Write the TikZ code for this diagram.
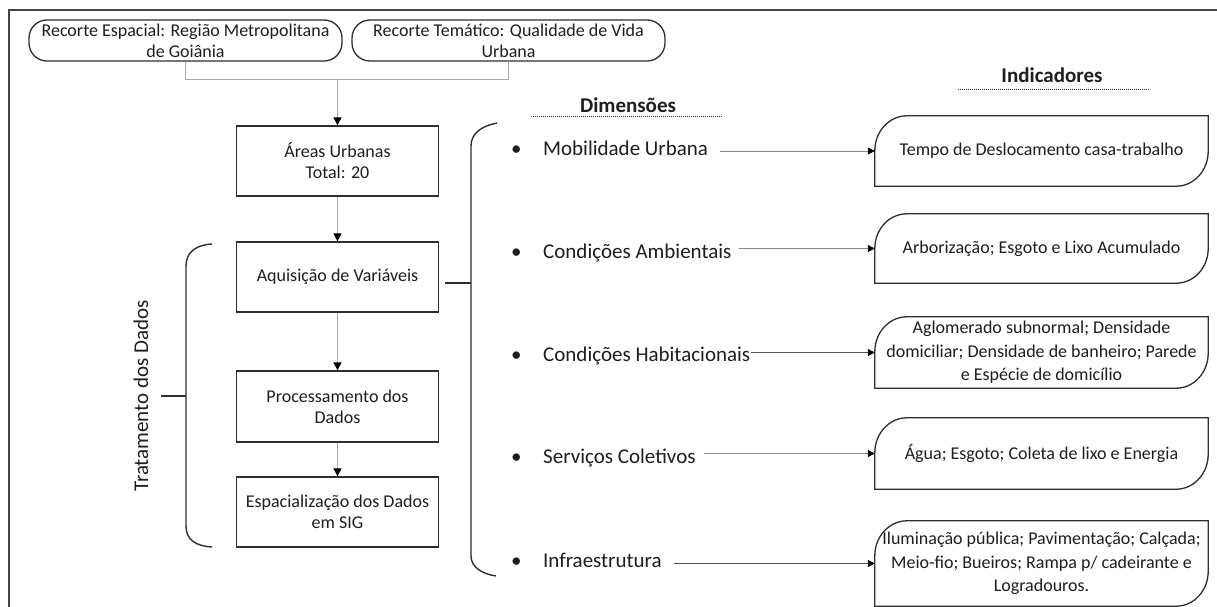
\documentclass[tikz,border=0pt]{standalone}
\usepackage{fontspec}
\setmainfont{Carlito}
\usetikzlibrary{arrows.meta,calc}
\definecolor{txt}{HTML}{1E1E1E}
\definecolor{bord}{HTML}{2E2E2E}
\definecolor{connc}{HTML}{A8A8A8}
\definecolor{dimlight}{HTML}{8A8A8A}
\definecolor{dimdark}{HTML}{555555}
\definecolor{framec}{HTML}{454545}
\newcommand{\boxfont}{\fontsize{18}{21}\selectfont}
\newcommand{\dimfont}{\fontsize{21}{25}\selectfont}
\newcommand{\indfont}{\fontsize{18}{23.5}\selectfont}
\newcommand{\indframe}[1]{%
  \draw[indshape] let \p1=(#1.north west), \p2=(#1.south east), \n1={min(35,0.5*(\y1-\y2))} in
   (\x1,\y2) -- (\x1,\y1-\n1) .. controls (\x1,\y1-0.448*\n1) and (\x1+14.3pt,\y1) .. (\x1+32pt,\y1)
   -- (\x2,\y1) -- (\x2,\y2+\n1) .. controls (\x2,\y2+0.448*\n1) and (\x2-14.3pt,\y2) .. (\x2-32pt,\y2) -- cycle;}
\begin{document}
\begin{tikzpicture}[x=1pt,y=-1pt,
  txtnode/.style={text=txt, inner sep=0pt, align=center},
  recorte/.style={txtnode, draw=bord, line width=1.3pt, rounded corners=18pt, minimum width=313pt, minimum height=41pt, font=\boxfont},
  flowbox/.style={txtnode, draw=bord, line width=1.3pt, minimum width=202pt, minimum height=70pt, font=\boxfont},
  indbox/.style={txtnode, minimum width=333pt, font=\indfont},
  dimlabel/.style={text=txt, inner sep=0pt, anchor=base west, font=\dimfont},
  heading/.style={text=txt, inner sep=0pt, anchor=base, font=\dimfont\bfseries},
  flow/.style={draw=connc, line width=0.9pt},
  flowarrow/.style={flow, -{Triangle[length=8pt,width=8pt,color=black]}},
  dimarrow/.style={line width=0.9pt, -{Triangle[length=7pt,width=7pt,color=black]}},
  brace/.style={draw=bord, line width=1.4pt},
  dotline/.style={draw=bord, line width=0.9pt, dash pattern=on 1pt off 1pt},
  indshape/.style={draw=bord, line width=1.3pt}
]
\useasboundingbox (0,0) rectangle (1217,607);
\clip (0,0) rectangle (1217,607);
\fill[white] (0,0) rectangle (1217,607);

% outer frame (cut by the picture edge)
\draw[draw=framec, line width=1.8pt] (9,640) -- (9,10) -- (1240,10);

% top boxes
\node[recorte] (r1) at (185.5,40.5) {Recorte Espacial: Região Metropolitana\\de Goiânia};
\node[recorte] (r2) at (508.5,40.5) {Recorte Temático: Qualidade de Vida\\Urbana};

% flow boxes
\node[flowbox] (areas) at (337.5,161) {Áreas Urbanas\\Total: 20};
\node[flowbox] (aq) at (337.5,277) {Aquisição de Variáveis};
\node[flowbox, minimum height=71pt] (proc) at (337.5,406.5) {Processamento dos\\Dados};
\node[flowbox] (esp) at (337.5,512) {Espacialização dos Dados\\em SIG};

% flow connectors
\coordinate (j) at (337.5,79);
\draw[flow] (r1.south) -- (r1.south |- j) -- (r2.south |- j) -- (r2.south);
\draw[flowarrow] (j) -- (areas.north);
\draw[flowarrow] (areas.south) -- (aq.north);
\draw[flowarrow] (aq.south) -- (proc.north);
\draw[flowarrow] (proc.south) -- (esp.north);

% left brace and label
\draw[brace] (212,244) .. controls (196,245) and (186,252) .. (186,266) -- (186,526) .. controls (186,540) and (196,546) .. (212,547);
\draw[brace] (161,396) -- (186,396);
\node[txtnode, rotate=90, font=\dimfont] (trat) at (141,396) {Tratamento dos Dados};

% right brace
\draw[brace] (497,123) .. controls (482,126) and (471,133) .. (471,146) -- (471,556) .. controls (471,567) and (482,574) .. (496,576);
\draw[brace] (445,283) -- (471,283);

% headings
\node[heading] (dimh) at (628,113) {Dimensões};
\draw[dotline] (531,116) -- (723,116);
\node[heading] (indh) at (1052,83) {Indicadores};
\draw[dotline] (958,89) -- (1150,89);

% dimension labels
\node[dimlabel] (d1) at (511,155) {\makebox[32pt][l]{•}Mobilidade Urbana};
\node[dimlabel] (d2) at (511,258) {\makebox[32pt][l]{•}Condições Ambientais};
\node[dimlabel] (d3) at (511,361) {\makebox[32pt][l]{•}Condições Habitacionais};
\node[dimlabel] (d4) at (511,463) {\makebox[32pt][l]{•}Serviços Coletivos};
\node[dimlabel] (d5) at (511,567) {\makebox[32pt][l]{•}Infraestrutura};

% indicator boxes
\node[indbox, minimum height=70pt] (i1) at (1041.5,151) {Tempo de Deslocamento casa-trabalho};
\node[indbox, minimum height=69pt] (i2) at (1041.5,248.5) {Arborização; Esgoto e Lixo Acumulado};
\node[indbox, minimum height=71pt] (i3) at (1041.5,352.5) {Aglomerado subnormal; Densidade\\domiciliar; Densidade de banheiro; Parede\\e Espécie de domicílio};
\node[indbox, minimum height=71pt] (i4) at (1041.5,453.5) {Água; Esgoto; Coleta de lixo e Energia};
\node[indbox, minimum height=85pt] (i5) at (1041.5,563.5) {Iluminação pública; Pavimentação; Calçada;\\Meio-fio; Bueiros; Rampa p/ cadeirante e\\Logradouros.};
\indframe{i1}
\indframe{i2}
\indframe{i3}
\indframe{i4}
\indframe{i5}

% dimension -> indicator arrows
\draw[dimarrow, draw=dimlight] ($(d1.east |- i1.west)+(12pt,0)$) -- (i1.west);
\draw[dimarrow, draw=dimlight] ($(d2.east |- i2.west)+(7pt,0)$) -- (i2.west);
\draw[dimarrow, draw=dimdark] ($(d3.east |- i3.west)+(1pt,0)$) -- (i3.west);
\draw[dimarrow, draw=dimlight] ($(d4.east |- i4.west)+(8pt,0)$) -- (i4.west);
\draw[dimarrow, draw=dimdark] ($(d5.east |- i5.west)+(12pt,0)$) -- (i5.west);
\end{tikzpicture}
\end{document}
